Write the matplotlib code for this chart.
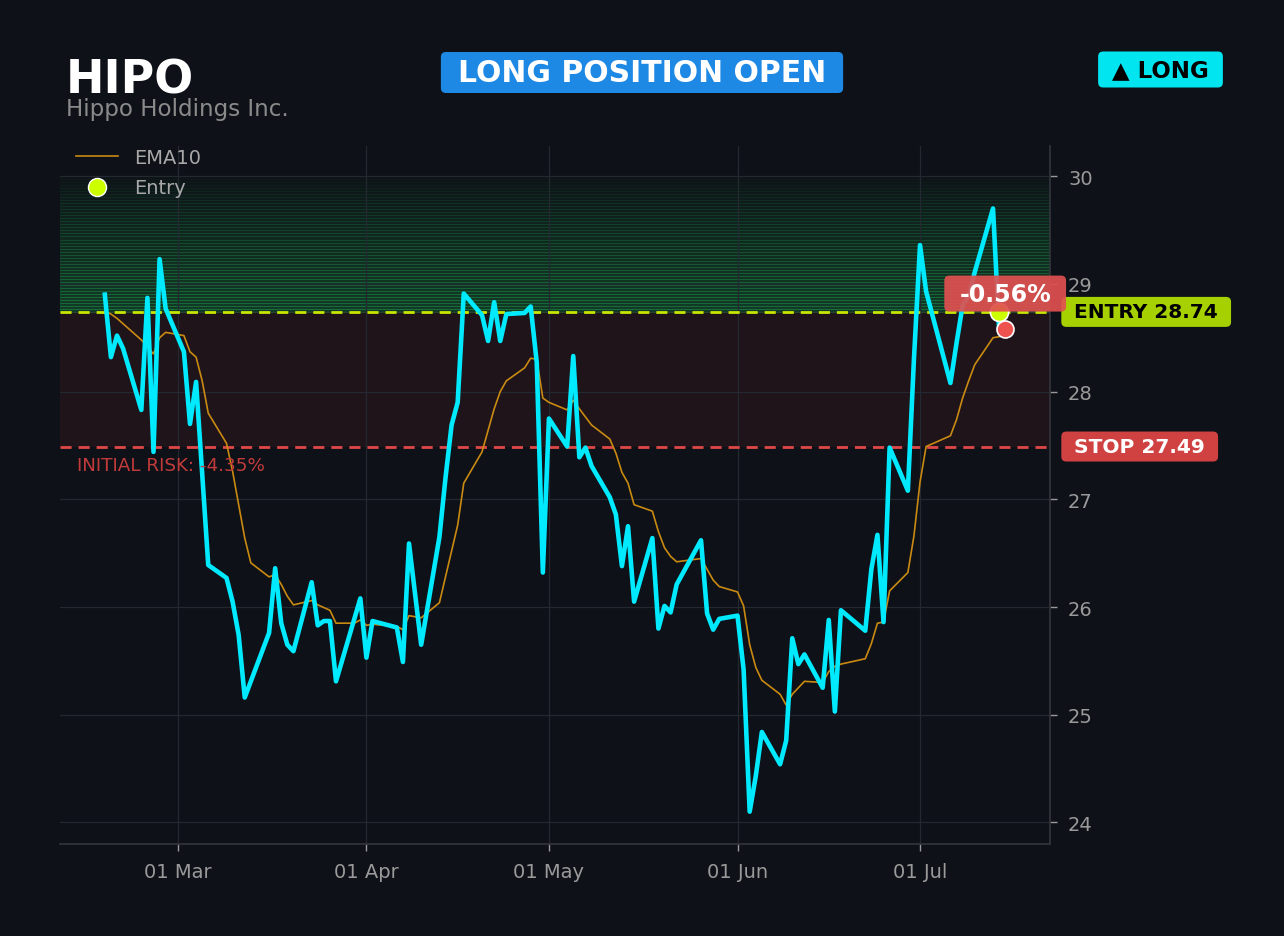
import matplotlib
matplotlib.use("Agg")
import matplotlib.pyplot as plt
import matplotlib.dates as mdates
import matplotlib.transforms as mtransforms
import numpy as np
import pandas as pd
from matplotlib.lines import Line2D
from matplotlib.patches import FancyBboxPatch

ticker = "HIPO"
company = "Hippo Holdings Inc."
entry_price = 28.74
stop_price = 27.49
zone_top = 30.0
current_price = 28.58
pnl_pct = -0.56
risk_pct = -4.35
entry_date = "2026-07-14"
current_date = "2026-07-15"

close_dates = [
    "2026-02-17", "2026-02-18", "2026-02-19", "2026-02-20", "2026-02-23", "2026-02-24",
    "2026-02-25", "2026-02-26", "2026-02-27", "2026-03-02", "2026-03-03", "2026-03-04",
    "2026-03-06", "2026-03-09", "2026-03-10", "2026-03-11", "2026-03-12", "2026-03-16",
    "2026-03-17", "2026-03-18", "2026-03-19", "2026-03-20", "2026-03-23", "2026-03-24",
    "2026-03-25", "2026-03-26", "2026-03-27", "2026-03-31", "2026-04-01", "2026-04-02",
    "2026-04-06", "2026-04-07", "2026-04-08", "2026-04-10", "2026-04-13", "2026-04-14",
    "2026-04-15", "2026-04-16", "2026-04-17", "2026-04-20", "2026-04-21", "2026-04-22",
    "2026-04-23", "2026-04-24", "2026-04-27", "2026-04-28", "2026-04-29", "2026-04-30",
    "2026-05-01", "2026-05-04", "2026-05-05", "2026-05-06", "2026-05-07", "2026-05-08",
    "2026-05-11", "2026-05-12", "2026-05-13", "2026-05-14", "2026-05-15", "2026-05-18",
    "2026-05-19", "2026-05-20", "2026-05-21", "2026-05-22", "2026-05-26", "2026-05-27",
    "2026-05-28", "2026-05-29", "2026-06-01", "2026-06-02", "2026-06-03", "2026-06-04",
    "2026-06-05", "2026-06-08", "2026-06-09", "2026-06-10", "2026-06-11", "2026-06-12",
    "2026-06-15", "2026-06-16", "2026-06-17", "2026-06-18", "2026-06-22", "2026-06-23",
    "2026-06-24", "2026-06-25", "2026-06-26", "2026-06-29", "2026-06-30", "2026-07-01",
    "2026-07-02", "2026-07-06", "2026-07-07", "2026-07-08", "2026-07-09", "2026-07-10",
    "2026-07-13", "2026-07-14",
]
close_vals = [
    28.90, 28.32, 28.52, 28.40, 27.83, 28.87,
    27.44, 29.23, 28.77, 28.37, 27.70, 28.09,
    26.39, 26.27, 26.05, 25.74, 25.16, 25.76,
    26.36, 25.85, 25.65, 25.59, 26.23, 25.83,
    25.87, 25.87, 25.31, 26.08, 25.53, 25.87,
    25.81, 25.49, 26.59, 25.65, 26.65, 27.20,
    27.69, 27.90, 28.91, 28.71, 28.47, 28.83,
    28.47, 28.72, 28.73, 28.79, 28.27, 26.32,
    27.75, 27.49, 28.33, 27.39, 27.48, 27.31,
    27.02, 26.86, 26.38, 26.75, 26.05, 26.64,
    25.80, 26.01, 25.95, 26.21, 26.62, 25.94,
    25.79, 25.89, 25.92, 25.42, 24.10, 24.43,
    24.84, 24.54, 24.76, 25.71, 25.47, 25.56,
    25.25, 25.88, 25.03, 25.97, 25.78, 26.35,
    26.67, 25.86, 27.48, 27.08, 28.30, 29.36,
    28.93, 28.08, 28.45, 28.80, 28.89, 29.11,
    29.70, 28.58,
]

ema_dates = [
    "2026-02-17", "2026-02-18", "2026-02-19", "2026-02-23", "2026-02-25", "2026-02-26",
    "2026-02-27", "2026-03-02", "2026-03-03", "2026-03-04", "2026-03-05", "2026-03-06",
    "2026-03-09", "2026-03-10", "2026-03-11", "2026-03-12", "2026-03-13", "2026-03-16",
    "2026-03-17", "2026-03-18", "2026-03-19", "2026-03-20", "2026-03-23", "2026-03-24",
    "2026-03-26", "2026-03-27", "2026-03-30", "2026-03-31", "2026-04-01", "2026-04-02",
    "2026-04-06", "2026-04-07", "2026-04-08", "2026-04-10", "2026-04-13", "2026-04-14",
    "2026-04-15", "2026-04-16", "2026-04-17", "2026-04-20", "2026-04-21", "2026-04-22",
    "2026-04-23", "2026-04-24", "2026-04-27", "2026-04-28", "2026-04-29", "2026-04-30",
    "2026-05-01", "2026-05-04", "2026-05-05", "2026-05-06", "2026-05-08", "2026-05-11",
    "2026-05-12", "2026-05-13", "2026-05-14", "2026-05-15", "2026-05-18", "2026-05-19",
    "2026-05-20", "2026-05-21", "2026-05-22", "2026-05-26", "2026-05-28", "2026-05-29",
    "2026-06-01", "2026-06-02", "2026-06-03", "2026-06-04", "2026-06-05", "2026-06-08",
    "2026-06-09", "2026-06-10", "2026-06-12", "2026-06-15", "2026-06-16", "2026-06-17",
    "2026-06-18", "2026-06-22", "2026-06-23", "2026-06-24", "2026-06-25", "2026-06-26",
    "2026-06-29", "2026-06-30", "2026-07-01", "2026-07-02", "2026-07-06", "2026-07-07",
    "2026-07-08", "2026-07-09", "2026-07-10", "2026-07-13", "2026-07-14",
]
ema_vals = [
    28.75, 28.72, 28.68, 28.48, 28.35, 28.50,
    28.55, 28.52, 28.37, 28.32, 28.10, 27.80,
    27.52, 27.26, 26.95, 26.64, 26.41, 26.28,
    26.30, 26.21, 26.10, 26.02, 26.06, 26.02,
    25.97, 25.85, 25.85, 25.88, 25.83, 25.84,
    25.82, 25.79, 25.92, 25.90, 26.04, 26.28,
    26.52, 26.76, 27.15, 27.44, 27.64, 27.84,
    28.00, 28.10, 28.22, 28.31, 28.30, 27.94,
    27.90, 27.83, 27.92, 27.84, 27.69, 27.56,
    27.43, 27.25, 27.15, 26.95, 26.89, 26.70,
    26.55, 26.47, 26.42, 26.45, 26.25, 26.19,
    26.14, 26.01, 25.65, 25.44, 25.32, 25.19,
    25.09, 25.19, 25.31, 25.30, 25.40, 25.45,
    25.47, 25.52, 25.66, 25.85, 25.86, 26.15,
    26.32, 26.66, 27.16, 27.49, 27.59, 27.74,
    27.94, 28.10, 28.25, 28.50, 28.51,
]

bg = "#0e1117"
cyan = "#00eaff"
ema_col = "#c98a12"
entry_col = "#c8e600"
stop_col = "#e04848"

fig = plt.figure(figsize=(12.84, 9.37), dpi=100, facecolor=bg)
ax = fig.add_axes([0.0467, 0.0982, 0.7711, 0.7449], facecolor=bg)
pix = mtransforms.IdentityTransform()


def add_box(t, fc, padx, h, host, z, alpha=1.0):
    # rounded box drawn in pixels around an existing text
    fig.canvas.draw()
    bb = t.get_window_extent()
    cy = (bb.y0 + bb.y1) / 2
    p = FancyBboxPatch((bb.x0 - padx, cy - h / 2), bb.width + 2 * padx, h,
                       boxstyle="round,pad=0,rounding_size=5", fc=fc, ec="none",
                       alpha=alpha, transform=pix, zorder=z, clip_on=False)
    host.add_artist(p)


cd = pd.to_datetime(close_dates)
ed = pd.to_datetime(ema_dates)

# green zone above entry, fading upward (edges give the thin stripes)
n = 45
edges = np.linspace(entry_price, zone_top, n + 1)
for i in range(n):
    a = 0.22 * (1 - i / n) ** 0.8
    ax.axhspan(edges[i], edges[i + 1], color="#22c55e", alpha=a, lw=0.8, zorder=0)
# risk zone
ax.axhspan(stop_price, entry_price, color="#ef4444", alpha=0.08, lw=0, zorder=0)

ax.axhline(entry_price, color=entry_col, lw=2, ls=(0, (4, 2.5)), zorder=2)
ax.axhline(stop_price, color=stop_col, lw=2, ls=(0, (4, 2.5)), zorder=2)

ax.plot(ed, ema_vals, color=ema_col, lw=1.2, zorder=3)
ax.plot(cd, close_vals, color=cyan, lw=3.3, zorder=4)

ax.scatter(pd.to_datetime(entry_date), entry_price, s=170, color="#ccff00",
           edgecolors="white", linewidths=1.2, zorder=6)
ax.scatter(pd.to_datetime(current_date), current_price, s=150, color="#ef5350",
           edgecolors="white", linewidths=1.2, zorder=6)

ax.set_xlim(pd.Timestamp("2026-02-09 15:00"), pd.Timestamp("2026-07-22 09:00"))
ax.set_ylim(23.8, 30.28)
ax.yaxis.tick_right()
ax.set_yticks([24, 25, 26, 27, 28, 29, 30])
ax.xaxis.set_major_locator(mdates.MonthLocator())
ax.xaxis.set_major_formatter(mdates.DateFormatter("%d %b"))
ax.tick_params(colors="#9a9a9a", labelsize=14, length=5, width=1)
ax.tick_params(axis="y", pad=8)
ax.tick_params(axis="x", pad=8)
ax.grid(True, color="#242830", lw=0.9, zorder=0)
ax.set_axisbelow(True)
for s in ["top", "left"]:
    ax.spines[s].set_visible(False)
for s in ["right", "bottom"]:
    ax.spines[s].set_color("#33363d")
    ax.spines[s].set_linewidth(1.2)

handles = [
    Line2D([0], [0], color=ema_col, lw=1.2, label="EMA10"),
    Line2D([0], [0], marker="o", color="none", markerfacecolor="#ccff00",
           markeredgecolor="white", markersize=13, label="Entry"),
]
ax.legend(handles=handles, loc="upper left", bbox_to_anchor=(0.002, 1.017), frameon=False,
          fontsize=14, labelcolor="#a8a8a8", borderaxespad=0.3, handlelength=2.2,
          labelspacing=0.6)

ax.text(0.017, stop_price - 0.17, f"INITIAL RISK: {risk_pct:.2f}%",
        transform=mtransforms.blended_transform_factory(ax.transAxes, ax.transData),
        ha="left", va="center", fontsize=13.2, color="#c23b3b", zorder=7)

# right-side price labels
tr = mtransforms.blended_transform_factory(ax.transAxes, ax.transData)
t_entry = ax.text(1.0245, entry_price, f"ENTRY {entry_price:.2f}", transform=tr, ha="left",
                  va="center", fontsize=14.5, fontweight="bold", color="black",
                  clip_on=False, zorder=9)
t_stop = ax.text(1.0245, stop_price, f"STOP {stop_price:.2f}", transform=tr, ha="left",
                 va="center", fontsize=14.5, fontweight="bold", color="white",
                 clip_on=False, zorder=9)
t_pnl = ax.text(pd.to_datetime(current_date), current_price + 0.33, f"{pnl_pct:.2f}%",
                ha="center", va="center", fontsize=17, fontweight="bold", color="white",
                clip_on=False, zorder=9)

# header
fig.text(66 / 1284, 1 - 93.5 / 937, ticker, fontsize=33, fontweight="bold", color="white",
         ha="left", va="baseline")
fig.text(66 / 1284, 1 - 116 / 937, company, fontsize=16.6, color="#8a8a8a",
         ha="left", va="baseline")
t_status = fig.text(642 / 1284, 1 - 73.5 / 937, "LONG POSITION OPEN", fontsize=21.5,
                    fontweight="bold", color="white", ha="center", va="center", zorder=5)
t_side = fig.text(1160.5 / 1284, 1 - 70.5 / 937, "▲ LONG", fontsize=16.5, fontweight="bold",
                  color="black", ha="center", va="center", zorder=5)

add_box(t_entry, "#a6d000", 13, 30, ax, 8)
add_box(t_stop, "#d04242", 13, 30, ax, 8)
add_box(t_pnl, "#e05050", 15, 36, ax, 8, alpha=0.92)
add_box(t_status, "#1e88e5", 17, 41, fig, 4)
add_box(t_side, "#00e5f0", 14, 36, fig, 4)

fig.savefig("out.png", dpi=100, facecolor=bg)
